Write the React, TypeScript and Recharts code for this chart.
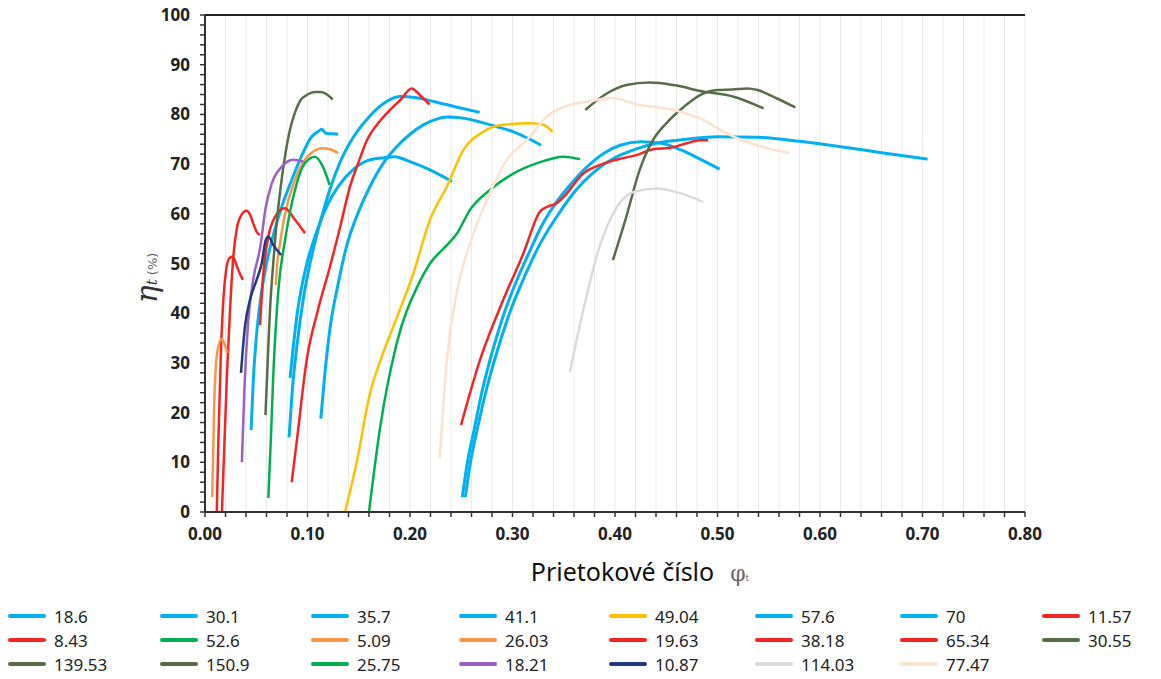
import React from "react";
import { CartesianGrid, Line, LineChart, ReferenceLine, XAxis, YAxis } from "recharts";

// colours used in the original sheet
const CYAN = "#00B0F0";
const YELLOW = "#FFC000";
const RED = "#F52424";
const GREEN = "#00B050";
const ORANGE = "#F79646";
const OLIVE = "#566E48";
const PURPLE = "#9B5FC8";
const NAVY = "#1F3A7A";
const GREY = "#DADADA";
const PEACH = "#FBE2CC";

// flow number (phi) vs efficiency (%) per curve
const c18_6 = [[0.045, 16.5], [0.047, 26], [0.05, 35], [0.054, 42.5], [0.06, 50], [0.067, 56], [0.075, 61.5], [0.085, 67], [0.095, 72], [0.104, 75.5], [0.11, 76.5], [0.114, 77], [0.118, 76.2], [0.124, 76.1], [0.13, 76]];
const c30_1 = [[0.083, 27], [0.086, 33], [0.09, 40], [0.095, 46], [0.1, 50.5], [0.11, 57], [0.12, 62], [0.13, 65.5], [0.145, 69], [0.16, 70.8], [0.175, 71.3], [0.185, 71.5], [0.2, 70.5], [0.22, 68.8], [0.241, 66.5]];
const c35_7 = [[0.082, 15], [0.085, 24], [0.09, 34], [0.096, 43], [0.103, 50.5], [0.112, 58], [0.122, 65], [0.132, 70.5], [0.145, 75.5], [0.16, 79.5], [0.175, 82.3], [0.19, 83.6], [0.205, 83.4], [0.225, 82.5], [0.245, 81.5], [0.268, 80.4]];
const c41_1 = [[0.113, 18.8], [0.117, 28], [0.122, 37], [0.13, 46], [0.138, 53.4], [0.15, 60.5], [0.161, 65.5], [0.175, 70.5], [0.187, 73.5], [0.2, 76], [0.213, 77.9], [0.225, 79], [0.236, 79.5], [0.25, 79.3], [0.268, 78.5], [0.285, 77.5], [0.301, 76.5], [0.315, 75.2], [0.328, 73.8]];
const c49_04 = [[0.1366, 0], [0.148, 10], [0.161, 23.9], [0.172, 31], [0.1837, 37.3], [0.2033, 48], [0.2195, 58.8], [0.236, 65.5], [0.252, 72.8], [0.2715, 76.5], [0.291, 77.9], [0.317, 78.2], [0.33, 77.9], [0.339, 76.5]];
const c57_6 = [[0.251, 3], [0.256, 10], [0.262, 16], [0.27, 24], [0.28, 32], [0.291, 39.5], [0.305, 47], [0.318, 53], [0.327, 57], [0.34, 61.5], [0.355, 65.5], [0.373, 69.5], [0.39, 72.3], [0.405, 73.8], [0.425, 74.5], [0.445, 74.2], [0.465, 72.8], [0.485, 70.8], [0.502, 69]];
const c70 = [[0.254, 3], [0.259, 10], [0.266, 17], [0.275, 25], [0.286, 33], [0.298, 40.5], [0.312, 47.5], [0.327, 54], [0.345, 60], [0.362, 64.8], [0.38, 68.5], [0.4, 71.3], [0.42, 73], [0.44, 74.2], [0.47, 75], [0.5, 75.5], [0.54, 75.4], [0.58, 74.6], [0.62, 73.5], [0.66, 72.3], [0.705, 71]];
const c11_57 = [[0.0165, 0], [0.019, 14], [0.0215, 28], [0.0245, 41], [0.0275, 51], [0.031, 57], [0.035, 59.6], [0.0405, 60.6], [0.044, 59.8], [0.0475, 57.8], [0.0505, 56.3], [0.0535, 55.7]];
const c8_43 = [[0.0115, 0], [0.013, 14], [0.0155, 32], [0.018, 43], [0.0205, 48.5], [0.0235, 51], [0.027, 51.4], [0.031, 49.5], [0.034, 48], [0.037, 46.7]];
const c52_6 = [[0.16, 0], [0.171, 17.2], [0.187, 33.9], [0.207, 45.3], [0.2195, 50], [0.236, 53.7], [0.246, 56.1], [0.2585, 60.8], [0.278, 64.8], [0.3008, 68.1], [0.324, 70.2], [0.35, 71.5], [0.366, 71]];
const c5_09 = [[0.007, 3], [0.008, 12], [0.009, 22], [0.0105, 29], [0.013, 33.3], [0.0165, 34.8], [0.019, 33.8], [0.022, 32]];
const c26_03 = [[0.069, 45.7], [0.0705, 50], [0.0732, 54], [0.0781, 60], [0.0878, 66.8], [0.096, 70.5], [0.104, 72.3], [0.115, 73.2], [0.122, 73], [0.13, 72.2]];
const c19_63 = [[0.0537, 37.6], [0.0569, 48], [0.0618, 55.4], [0.0683, 59.4], [0.078, 61.1], [0.0878, 58.8], [0.0976, 56.1]];
const c38_18 = [[0.0846, 6], [0.09, 15], [0.0992, 30.6], [0.11, 40.5], [0.122, 49.4], [0.132, 57.5], [0.1415, 65.5], [0.15, 70.5], [0.158, 74.8], [0.17, 78.5], [0.1805, 80.9], [0.191, 83], [0.2016, 85.2], [0.21, 83.8], [0.219, 82]];
const c65_34 = [[0.2498, 17.5], [0.2683, 30.6], [0.291, 42.7], [0.3106, 52], [0.327, 60.5], [0.335, 61.5], [0.342, 62], [0.35, 63.4], [0.369, 68.1], [0.385, 69.8], [0.408, 71.2], [0.421, 71.8], [0.437, 73], [0.454, 73.3], [0.47, 74.2], [0.483, 74.8], [0.491, 74.8]];
const c30_55 = [[0.059, 19.5], [0.0615, 32], [0.0635, 41], [0.066, 48.5], [0.0685, 55], [0.073, 64], [0.078, 71.5], [0.083, 77], [0.088, 80.5], [0.093, 82.8], [0.1, 84], [0.107, 84.5], [0.113, 84.5], [0.119, 84], [0.1246, 83]];
const c139_53 = [[0.398, 50.7], [0.411, 59.4], [0.424, 68.8], [0.437, 74.8], [0.45, 78.2], [0.467, 81.5], [0.483, 83.9], [0.5, 84.9], [0.515, 85], [0.529, 85.2], [0.539, 84.9], [0.558, 83.2], [0.576, 81.4]];
const c150_9 = [[0.371, 80.9], [0.392, 84.2], [0.411, 85.9], [0.434, 86.4], [0.457, 85.9], [0.486, 84.6], [0.515, 83.6], [0.545, 81.2]];
const c25_75 = [[0.0618, 2.8], [0.0645, 16], [0.0667, 27.9], [0.0716, 44.7], [0.0781, 54.7], [0.0878, 64.8], [0.0976, 70.2], [0.1073, 71.5], [0.115, 69.5], [0.1216, 65.8]];
const c18_21 = [[0.036, 10], [0.0385, 25], [0.042, 38], [0.047, 46.7], [0.054, 53.4], [0.059, 61], [0.065, 66], [0.075, 69.5], [0.086, 70.9], [0.096, 70.5]];
const c10_87 = [[0.0351, 28], [0.037, 33], [0.039, 37.3], [0.0439, 42.7], [0.0504, 46.7], [0.0553, 50], [0.0592, 54.7], [0.0618, 55.4], [0.0667, 53.7], [0.0742, 51.7]];
const c114_03 = [[0.356, 28.2], [0.369, 40.6], [0.385, 53.4], [0.402, 61.4], [0.418, 64.4], [0.441, 65.1], [0.464, 64.1], [0.486, 62.4]];
const c77_47 = [[0.229, 10.8], [0.232, 20], [0.236, 30.6], [0.2455, 44], [0.2585, 54], [0.275, 62.8], [0.2943, 70.8], [0.317, 75.5], [0.333, 79.5], [0.35, 81.5], [0.375, 82.6], [0.396, 83.3], [0.424, 81.9], [0.457, 80.9], [0.486, 78.9], [0.506, 76.5], [0.528, 74.5], [0.57, 72.2]];

const series = [
  { name: "18.6", color: CYAN, pts: c18_6 },
  { name: "30.1", color: CYAN, pts: c30_1 },
  { name: "35.7", color: CYAN, pts: c35_7 },
  { name: "41.1", color: CYAN, pts: c41_1 },
  { name: "49.04", color: YELLOW, pts: c49_04 },
  { name: "57.6", color: CYAN, pts: c57_6 },
  { name: "70", color: CYAN, pts: c70 },
  { name: "11.57", color: RED, pts: c11_57 },
  { name: "8.43", color: RED, pts: c8_43 },
  { name: "52.6", color: GREEN, pts: c52_6 },
  { name: "5.09", color: ORANGE, pts: c5_09 },
  { name: "26.03", color: ORANGE, pts: c26_03 },
  { name: "19.63", color: RED, pts: c19_63 },
  { name: "38.18", color: RED, pts: c38_18 },
  { name: "65.34", color: RED, pts: c65_34 },
  { name: "30.55", color: OLIVE, pts: c30_55 },
  { name: "139.53", color: OLIVE, pts: c139_53 },
  { name: "150.9", color: OLIVE, pts: c150_9 },
  { name: "25.75", color: GREEN, pts: c25_75 },
  { name: "18.21", color: PURPLE, pts: c18_21 },
  { name: "10.87", color: NAVY, pts: c10_87 },
  { name: "114.03", color: GREY, pts: c114_03 },
  { name: "77.47", color: PEACH, pts: c77_47 },
];

const xMajor = [0, 0.1, 0.2, 0.3, 0.4, 0.5, 0.6, 0.7, 0.8];
const yMajor = [0, 10, 20, 30, 40, 50, 60, 70, 80, 90, 100];
// minor tick marks every 0.02 / every 2 %
const xTicks = Array.from({ length: 41 }, (_, i) => Math.round(i * 2) / 100);
const yTicks = Array.from({ length: 51 }, (_, i) => i * 2);

// legend placement (page pixels): text left edge per column, row centre
const legendTextX = [54, 206, 357, 505, 655, 801, 946, 1088];
const legendRowY = [616, 640, 664];

const tickStyle = { fontFamily: "Noto Sans", fontWeight: 700, fontSize: 17, fill: "#222" };

export default function App() {
  // wrapper is pulled up by the body margin so y here equals page y; x = page x - 8
  return (
    <div style={{ position: "relative", top: -8, width: 1145, height: 663, fontFamily: "Noto Sans" }}>
      <LineChart width={1145} height={548} margin={{ top: 15, right: 128, left: 0, bottom: 6 }}>
        <CartesianGrid horizontal={false} stroke="#e9e9e9" strokeWidth={1} />
        <XAxis
          type="number"
          dataKey="x"
          domain={[0, 0.8]}
          ticks={xTicks}
          interval={0}
          allowDataOverflow
          height={30}
          tickSize={5}
          tickMargin={11}
          tick={tickStyle}
          axisLine={{ stroke: "#333", strokeWidth: 2 }}
          tickLine={{ stroke: "#333", strokeWidth: 1.5 }}
          tickFormatter={(v: number) => (xMajor.some((m) => Math.abs(m - v) < 1e-6) ? v.toFixed(2) : "")}
        />
        <YAxis
          type="number"
          domain={[0, 100]}
          ticks={yTicks}
          interval={0}
          width={197}
          tickSize={5}
          tickMargin={10}
          tick={tickStyle}
          axisLine={{ stroke: "#333", strokeWidth: 2 }}
          tickLine={{ stroke: "#333", strokeWidth: 1.5 }}
          tickFormatter={(v: number) => (yMajor.includes(v) ? String(v) : "")}
        />
        <ReferenceLine y={100} stroke="#222" strokeWidth={2} />
        {series.map((s) => (
          <Line
            key={s.name}
            data={s.pts.map(([x, y]) => ({ x, y }))}
            dataKey="y"
            type="monotone"
            stroke={s.color}
            strokeWidth={s.color === CYAN ? 3 : 2.5}
            dot={false}
            activeDot={false}
            isAnimationActive={false}
          />
        ))}
      </LineChart>

      {/* y axis title */}
      <div
        style={{
          position: "absolute",
          left: 142,
          top: 278,
          transform: "translate(-50%, -50%) rotate(-90deg)",
          whiteSpace: "nowrap",
          lineHeight: "30px",
          color: "#333",
        }}
      >
        <span style={{ fontFamily: "DejaVu Serif", fontStyle: "italic", fontSize: 30 }}>η</span>
        <span style={{ fontFamily: "DejaVu Serif", fontStyle: "italic", fontSize: 15 }}>t</span>
        <span style={{ fontFamily: "DejaVu Sans", fontSize: 13, color: "#666" }}> (%)</span>
      </div>

      {/* x axis title */}
      <div
        style={{
          position: "absolute",
          left: 632,
          top: 571,
          transform: "translate(-50%, -50%)",
          whiteSpace: "nowrap",
          fontSize: 25,
          color: "#111",
        }}
      >
        Prietokové číslo
        <span style={{ fontFamily: "DejaVu Serif", fontSize: 22, color: "#666", marginLeft: 16 }}>φ</span>
        <span style={{ fontFamily: "DejaVu Serif", fontSize: 9, color: "#666" }}>t</span>
      </div>

      {/* legend */}
      {series.map((s, i) => {
        const col = i % 8;
        const row = Math.floor(i / 8);
        const tx = legendTextX[col] - 8;
        const ty = legendRowY[row];
        return (
          <div key={s.name} style={{ position: "absolute", left: tx - 46, top: ty - 11, height: 22, display: "flex", alignItems: "center" }}>
            <div style={{ width: 38, height: 4, borderRadius: 2, background: s.color, marginRight: 8 }} />
            <span style={{ fontSize: 17, color: "#222" }}>{s.name}</span>
          </div>
        );
      })}
    </div>
  );
}
